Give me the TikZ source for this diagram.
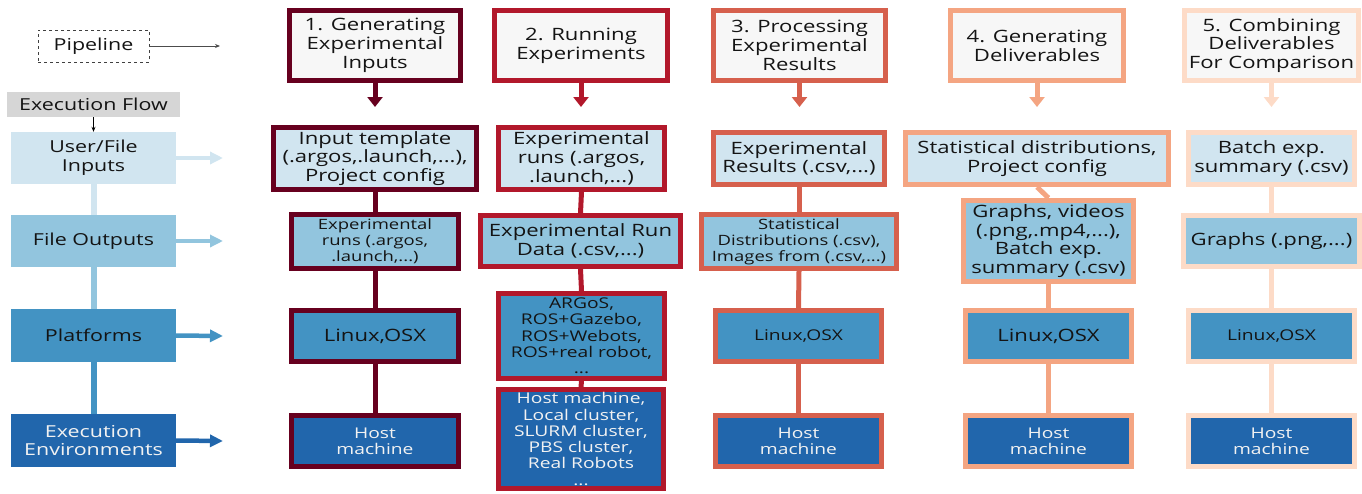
\documentclass[tikz,border=0pt]{standalone}
\usepackage{fontspec}
\setmainfont{Open Sans}[FakeStretch=1.3]
\usetikzlibrary{arrows.meta}
\definecolor{cA}{HTML}{67001F}
\definecolor{cB}{HTML}{B2182B}
\definecolor{cC}{HTML}{D6604D}
\definecolor{cD}{HTML}{F4A582}
\definecolor{cE}{HTML}{FDDBC7}
\definecolor{rA}{HTML}{D1E5F0}
\definecolor{rB}{HTML}{92C5DE}
\definecolor{rC}{HTML}{4393C3}
\definecolor{rD}{HTML}{2166AC}
\definecolor{tfill}{HTML}{F7F7F7}
\definecolor{flowgray}{HTML}{D6D6D6}
\definecolor{txt}{HTML}{141414}
\definecolor{wtxt}{HTML}{F2F2F2}
\newcommand\fbig{\fontsize{17}{18.7}\selectfont}
\newcommand\fleg{\fontsize{16.5}{18.7}\selectfont}
\newcommand\fmid{\fontsize{14.8}{16.3}\selectfont}
\newcommand\fsml{\fontsize{14.2}{16}\selectfont}
\tikzset{
  sz/.style 2 args={minimum width={#1-5}, minimum height={#2-5}},
  lsz/.style 2 args={minimum width={#1}, minimum height={#2}},
  box/.style={draw=#1, line width=5pt, inner sep=0pt, align=center, text=txt},
  title/.style={box=#1, fill=tfill, font=\fbig},
  rowA/.style={fill=rA},
  rowB/.style={fill=rB},
  rowC/.style={fill=rC},
  rowD/.style={fill=rD, text=wtxt},
  lbox/.style={draw=none, inner sep=0pt, align=center, text=txt, font=\fleg},
  downarr/.style={draw=#1, line width=5pt, -{Triangle[length=10pt,width=15pt]}},
  rightarr/.style={draw=#1, line width=4.5pt, -{Triangle[length=13pt,width=12pt]}},
  colline/.style={draw=#1, line width=5pt},
  leftline/.style={draw=#1, line width=6pt},
}
\begin{document}
\begin{tikzpicture}[x=1pt,y=-1pt]
\useasboundingbox (0,0) rectangle (1362,493);
% left legend
\node[lbox, draw=black!75, dashed, line width=0.8pt, minimum width=111, minimum height=32] (pipe) at (93.5,46) {Pipeline};
\coordinate (pa) at (220,46);
\draw[black!70, line width=0.9pt, -{Stealth[length=5pt,width=4pt]}] (pipe.east) -- (pa);
\node[lbox, fill=flowgray, lsz={173}{25}] (flow) at (93.5,104.5) {Execution Flow};
\node[lbox, fill=rA, lsz={165}{52}] (ufi) at (93.5,158) {User/File\\Inputs};
\node[lbox, fill=rB, lsz={165}{52}] (fo) at (93.5,241) {File Outputs};
\node[lbox, fill=rC, lsz={165}{53}] (plat) at (93.5,335.5) {Platforms};
\node[lbox, fill=rD, text=wtxt, lsz={165}{53}] (env) at (93.5,440.5) {Execution\\Environments};
\draw[black, line width=0.9pt, -{Stealth[length=5pt,width=4pt]}] (flow.south) -- (ufi.north);
\draw[leftline=rA] (ufi.south) -- (fo.north);
\draw[leftline=rB] (fo.south) -- (plat.north);
\draw[leftline=rC] (plat.south) -- (env.north);
\coordinate (ra) at (223,158);
\coordinate (rb) at (223,241);
\coordinate (rc) at (223,336);
\coordinate (rd) at (223,441);
\draw[rightarr=rA] (ufi.east) -- (ra);
\draw[rightarr=rB] (fo.east) -- (rb);
\draw[rightarr=rC] (plat.east) -- (rc);
\draw[rightarr=rD] (env.east) -- (rd);
% column 1
\node[title=cA, sz={176}{75}] (t1) at (375,45.5) {1. Generating\\Experimental\\Inputs};
\node[box=cA, rowA, font=\fbig, sz={208}{67}] (in1) at (375,158.5) {Input template\\(.argos,.launch,...),\\Project config};
\node[box=cA, rowB, font=\fsml, sz={172}{59}] (out1) at (375,241.5) {Experimental\\runs (.argos,\\.launch,...)};
\node[box=cA, rowC, font=\fbig, sz={172}{56}] (pl1) at (375,336) {Linux,OSX};
\node[box=cA, rowD, font=\fmid, sz={172}{56}] (ee1) at (375,441) {Host\\machine};
% column 2
\node[title=cB, sz={178}{75}] (t2) at (581,45.5) {2. Running\\Experiments};
\node[box=cB, rowA, font=\fbig, sz={171}{67}] (in2) at (581.5,158.5) {Experimental\\runs (.argos,\\.launch,...)};
\node[box=cB, rowB, font=\fbig, sz={205}{56}] (out2) at (580.5,241) {Experimental Run\\Data (.csv,...)};
\node[box=cB, rowC, font=\fmid, sz={171}{90}] (pl2) at (581.5,336) {ARGoS,\\ROS+Gazebo,\\ROS+Webots,\\ROS+real robot,\\...};
\node[box=cB, rowD, font=\fmid, sz={170}{104}] (ee2) at (581,439) {Host machine,\\Local cluster,\\SLURM cluster,\\PBS cluster,\\Real Robots\\...};
% column 3
\node[title=cC, sz={177}{75}] (t3) at (799.5,45.5) {3. Processing\\Experimental\\Results};
\node[box=cC, rowA, font=\fbig, sz={176}{57}] (in3) at (799,158.5) {Experimental\\Results (.csv,...)};
\node[box=cC, rowB, font=\fsml, sz={200}{59}] (out3) at (799,241.5) {Statistical\\Distributions (.csv),\\Images from (.csv,...)};
\node[box=cC, rowC, font=\fmid, sz={171}{56}] (pl3) at (798.5,336) {Linux,OSX};
\node[box=cC, rowD, font=\fmid, sz={171}{56}] (ee3) at (798.5,441) {Host\\machine};
% column 4
\node[title=cD, sz={178}{75}] (t4) at (1037,45.5) {4. Generating\\Deliverables};
\node[box=cD, rowA, font=\fbig, sz={268}{57}] (in4) at (1037,158.5) {Statistical distributions,\\Project config};
\node[box=cD, rowB, font=\fbig, sz={175}{86}] (out4) at (1048.5,241) {Graphs, videos\\(.png,.mp4,...),\\Batch exp.\\summary (.csv)};
\node[box=cD, rowC, font=\fbig, sz={171}{56}] (pl4) at (1048.5,336) {Linux,OSX};
\node[box=cD, rowD, font=\fmid, sz={171}{56}] (ee4) at (1048.5,441) {Host\\machine};
% column 5
\node[title=cE, sz={179}{75}] (t5) at (1271.5,45.5) {5. Combining\\Deliverables\\For Comparison};
\node[box=cE, rowA, font=\fbig, sz={171}{57}] (in5) at (1271.5,158.5) {Batch exp.\\summary (.csv)};
\node[box=cE, rowB, font=\fbig, sz={181}{56}] (out5) at (1271.5,241) {Graphs (.png,...)};
\node[box=cE, rowC, font=\fmid, sz={171}{56}] (pl5) at (1271.5,336) {Linux,OSX};
\node[box=cE, rowD, font=\fmid, sz={171}{56}] (ee5) at (1271.5,441) {Host\\machine};
% title arrows
\coordinate (d1) at (375,107);
\coordinate (d2) at (581,107);
\coordinate (d3) at (799.5,107);
\coordinate (d4) at (1037,107);
\coordinate (d5) at (1271.5,107);
\draw[downarr=cA] (t1.south) -- (d1);
\draw[downarr=cB] (t2.south) -- (d2);
\draw[downarr=cC] (t3.south) -- (d3);
\draw[downarr=cD] (t4.south) -- (d4);
\draw[downarr=cE] (t5.south) -- (d5);
% column connectors
\draw[colline=cA] (in1.south) -- (out1.north);
\draw[colline=cA] (out1.south) -- (pl1.north);
\draw[colline=cA] (pl1.south) -- (ee1.north);
\draw[colline=cB] (in2.south) -- (out2.north);
\draw[colline=cB] (out2.south) -- (pl2.north);
\draw[colline=cB] (pl2.south) -- (ee2.north);
\draw[colline=cC] (in3.south) -- (out3.north);
\draw[colline=cC] (out3.south) -- (pl3.north);
\draw[colline=cC] (pl3.south) -- (ee3.north);
\draw[colline=cD] (in4.south) -- (out4.north);
\draw[colline=cD] (out4.south) -- (pl4.north);
\draw[colline=cD] (pl4.south) -- (ee4.north);
\draw[colline=cE] (in5.south) -- (out5.north);
\draw[colline=cE] (out5.south) -- (pl5.north);
\draw[colline=cE] (pl5.south) -- (ee5.north);
\end{tikzpicture}
\end{document}
